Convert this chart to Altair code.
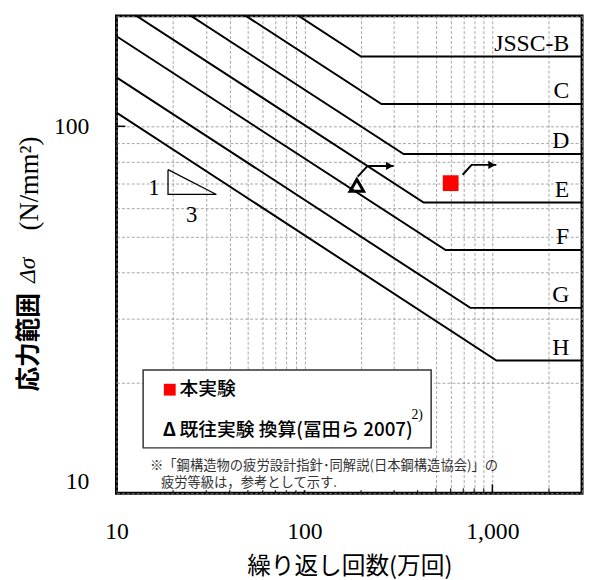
import altair as alt
import pandas as pd

# ---- data ----
classes = ["JSSC-B", "C", "D", "E", "F", "G", "H"]
n_start = [10, 10, 10, 10, 10, 10, 10]
s_start = [421, 339, 271, 217, 176, 136, 109]
n_knee = [200, 257, 337, 431, 564, 763, 1052]
s_cut = [155, 115, 84, 62, 46, 32, 23]
n_end = [3000, 3000, 3000, 3000, 3000, 3000, 3000]

this_n = [600]
this_s = [70]
prev_n = [190]
prev_s = [69]

arrow_id = ["prev", "prev", "prev", "this", "this", "this"]
arrow_n = [192, 217, 298, 695, 775, 1050]
arrow_s = [72.9, 78.0, 78.0, 73.8, 78.5, 78.5]
head_n = [284, 994]
head_s = [78.0, 78.5]

slope_n = [18.8, 18.8, 34.0, 18.8]
slope_s = [76.2, 65.2, 65.2, 76.2]
slope_lbl = ["1", "3"]
slope_lbl_n = [15.8, 25.1]
slope_lbl_s = [67.7, 57.3]

x_vals = [10, 20, 30, 40, 50, 60, 70, 80, 90, 100, 200, 300, 400, 500, 600,
          700, 800, 900, 1000, 2000, 3000]
y_vals = [10, 20, 30, 40, 50, 60, 70, 80, 90, 100, 200]
x_minor = [20, 30, 40, 50, 60, 70, 80, 90, 200, 300, 400, 500, 600, 700, 800,
           900, 2000]
x_major = [100, 1000]
y_major = [100]

W, H = 472, 484
SERIF = "Liberation Serif"
SANS = "Noto Sans CJK JP"

rows = []
for i, c in enumerate(classes):
    rows.append({"cls": c, "o": 0, "n": n_start[i], "s": s_start[i]})
    rows.append({"cls": c, "o": 1, "n": n_knee[i], "s": s_cut[i]})
    rows.append({"cls": c, "o": 2, "n": n_end[i], "s": s_cut[i]})
sn = pd.DataFrame(rows)
lbl = pd.DataFrame({"cls": classes, "n": n_end, "s": s_cut})

xscale = alt.Scale(type="log", domain=[10, 3000], nice=False)
yscale = alt.Scale(type="log", domain=[10, 200], nice=False)

grid_kw = dict(grid=True, gridColor="#8f8f8f", gridDash=[3, 2], gridWidth=0.8,
               ticks=False, domain=False, labelFont=SERIF, labelFontSize=24,
               labelColor="black", labelOverlap=False, labelBound=False)
x_axis = alt.Axis(values=x_vals,
                  labelExpr="indexof([10,100,1000], datum.value) >= 0 ? format(datum.value, ',') : ''",
                  labelPadding=27, labelFlush=False,
                  title="繰り返し回数(万回)", titleFont=SANS, titleFontSize=24,
                  titleFontWeight="normal", titleColor="black", titlePadding=11,
                  **grid_kw)
y_axis = alt.Axis(values=y_vals,
                  labelExpr="indexof([10,100], datum.value) >= 0 ? format(datum.value, ',') : ''",
                  labelPadding=28, labelFlush=True, title=None, **grid_kw)

X = alt.X("n:Q", scale=xscale, axis=x_axis)
Y = alt.Y("s:Q", scale=yscale, axis=y_axis)

lines = alt.Chart(sn).mark_line(color="black", strokeWidth=2, clip=True).encode(
    x=X, y=Y, detail="cls:N", order="o:Q")

cls_text = alt.Chart(lbl).mark_text(font=SERIF, fontSize=24, align="right",
                                    baseline="alphabetic", dx=-13, dy=-6,
                                    color="black").encode(x=X, y=Y, text="cls:N")

slope = alt.Chart(pd.DataFrame({"o": range(4), "n": slope_n, "s": slope_s})).mark_line(
    color="black", strokeWidth=1.3).encode(x=X, y=Y, order="o:Q")
slope_t = alt.Chart(pd.DataFrame({"t": slope_lbl, "n": slope_lbl_n, "s": slope_lbl_s})).mark_text(
    font=SERIF, fontSize=23, color="black", baseline="middle").encode(x=X, y=Y, text="t:N")

sq = alt.Chart(pd.DataFrame({"n": this_n, "s": this_s})).mark_square(
    color="#ff0000", size=256, opacity=1).encode(x=X, y=Y)
tri = alt.Chart(pd.DataFrame({"n": prev_n, "s": prev_s})).mark_point(
    shape="triangle-up", filled=False, stroke="black", strokeWidth=3, size=190,
    opacity=1).encode(x=X, y=Y)

arr = alt.Chart(pd.DataFrame({"id": arrow_id, "o": range(6), "n": arrow_n, "s": arrow_s})).mark_line(
    color="black", strokeWidth=2).encode(x=X, y=Y, detail="id:N", order="o:Q")
heads = alt.Chart(pd.DataFrame({"n": head_n, "s": head_s})).mark_point(
    shape="triangle-right", filled=True, color="black", size=70, opacity=1).encode(x=X, y=Y)

# ticks drawn inside the frame
xminor = alt.Chart(pd.DataFrame({"n": x_minor})).mark_rule(color="black", strokeWidth=1).encode(
    x=X, y=alt.value(H), y2=alt.value(H - 5))
xmajor = alt.Chart(pd.DataFrame({"n": x_major})).mark_rule(color="black", strokeWidth=1.5).encode(
    x=X, y=alt.value(H), y2=alt.value(H - 9))
ymajor = alt.Chart(pd.DataFrame({"s": y_major})).mark_rule(color="black", strokeWidth=1.5).encode(
    y=Y, x=alt.value(0), x2=alt.value(9))

one = pd.DataFrame({"k": [0]})
white = alt.Chart(one).mark_rect(fill="white", opacity=1).encode(
    x=alt.value(27), x2=alt.value(322), y=alt.value(359), y2=alt.value(481))
box = alt.Chart(one).mark_rect(fill="white", stroke="#333333", strokeWidth=1.5).encode(
    x=alt.value(27), x2=alt.value(319), y=alt.value(359), y2=alt.value(438))
leg_sq = alt.Chart(one).mark_square(color="#ff0000", size=144, opacity=1).encode(
    x=alt.value(54), y=alt.value(379))
leg_t1 = alt.Chart(one).mark_text(font=SANS, fontSize=19, fontWeight=500, align="left",
                                  baseline="middle", color="black", text="本実験").encode(
    x=alt.value(64), y=alt.value(378))
leg_tri = alt.Chart(one).mark_text(font=SANS, fontSize=19, fontWeight="bold", align="left",
                                   baseline="middle", color="black", text="Δ").encode(
    x=alt.value(47), y=alt.value(420))
leg_t2 = alt.Chart(one).mark_text(font=SANS, fontSize=19, fontWeight=500, align="left",
                                  baseline="middle", color="black",
                                  text="既往実験 換算(冨田ら 2007)").encode(
    x=alt.value(64), y=alt.value(420))
leg_sup = alt.Chart(one).mark_text(font=SERIF, fontSize=14, align="left", baseline="middle",
                                   color="black", text="2)").encode(
    x=alt.value(299), y=alt.value(405))
note1 = alt.Chart(one).mark_text(font=SANS, fontSize=13.5, align="left", baseline="middle",
                                 color="#333333",
                                 text="※「鋼構造物の疲労設計指針･同解説(日本鋼構造協会)」の").encode(
    x=alt.value(34), y=alt.value(456))
note2 = alt.Chart(one).mark_text(font=SANS, fontSize=13.5, align="left", baseline="middle",
                                 color="#333333", text="疲労等級は，参考として示す.").encode(
    x=alt.value(45), y=alt.value(474))

yt1 = alt.Chart(one).mark_text(font=SANS, fontSize=25, fontWeight="bold", angle=270,
                               align="center", baseline="middle", color="black",
                               text="応力範囲").encode(x=alt.value(-89), y=alt.value(331))
yt2 = alt.Chart(one).mark_text(font=SERIF, fontSize=24, fontStyle="italic", angle=270,
                               align="center", baseline="middle", color="black",
                               text="Δσ").encode(x=alt.value(-90), y=alt.value(258))
yt3 = alt.Chart(one).mark_text(font=SERIF, fontSize=27, angle=270,
                               align="center", baseline="middle", color="black",
                               text="(N/mm²)").encode(x=alt.value(-88), y=alt.value(170))

chart = alt.layer(
    lines, cls_text, slope, slope_t, arr, heads, sq, tri,
    xminor, xmajor, ymajor,
    white, box, leg_sq, leg_t1, leg_tri, leg_t2, leg_sup, note1, note2,
    yt1, yt2, yt3
).properties(
    width=W, height=H,
    autosize=alt.AutoSizeParams(type="none"),
    padding={"left": 110, "top": 4, "right": 3, "bottom": 84}
).configure_view(stroke="black", strokeWidth=3)

chart.save("out.html", embed_options={"renderer": "svg", "actions": False})
